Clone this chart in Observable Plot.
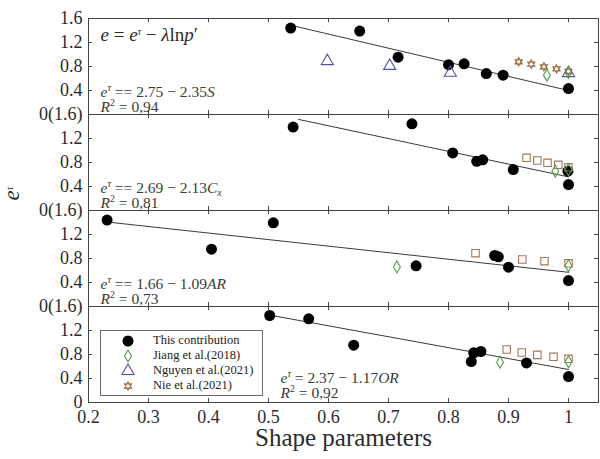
<!DOCTYPE html>
<html>
<head>
<meta charset="utf-8">
<script src="https://cdn.jsdelivr.net/npm/d3@7"></script>
<script src="https://cdn.jsdelivr.net/npm/@observablehq/plot@0.6"></script>
<style>
  body { margin: 0; background: #fff; }
</style>
</head>
<body>
<div id="chart"></div>
<script>
// Stacked panels: one per shape parameter
const panels = ["S", "Cx", "AR", "OR"];

// Legend entries
const seriesNames = ["This contribution", "Jiang et al.(2018)", "Nguyen et al.(2021)", "Nie et al.(2021)"];

// [panel, shape parameter, e^τ]
const thisContribution = [
  ["S", 0.537, 1.44], ["S", 0.652, 1.39], ["S", 0.716, 0.955], ["S", 0.80, 0.83],
  ["S", 0.826, 0.845], ["S", 0.863, 0.683], ["S", 0.891, 0.656], ["S", 1.0, 0.433],
  ["Cx", 0.541, 1.39], ["Cx", 0.739, 1.445], ["Cx", 0.807, 0.96], ["Cx", 0.847, 0.82],
  ["Cx", 0.857, 0.845], ["Cx", 0.908, 0.683], ["Cx", 0.999, 0.655], ["Cx", 1.0, 0.433],
  ["AR", 0.231, 1.44], ["AR", 0.405, 0.955], ["AR", 0.508, 1.394], ["AR", 0.746, 0.678],
  ["AR", 0.877, 0.85], ["AR", 0.883, 0.828], ["AR", 0.90, 0.656], ["AR", 1.0, 0.433],
  ["OR", 0.502, 1.45], ["OR", 0.567, 1.395], ["OR", 0.642, 0.955], ["OR", 0.838, 0.683],
  ["OR", 0.842, 0.828], ["OR", 0.854, 0.85], ["OR", 0.93, 0.66], ["OR", 1.0, 0.433]
];
const jiang2018 = [
  ["S", 0.964, 0.655], ["S", 1.0, 0.70],
  ["Cx", 0.978, 0.655], ["Cx", 1.0, 0.68],
  ["AR", 0.714, 0.66], ["AR", 1.0, 0.68],
  ["OR", 0.886, 0.672], ["OR", 1.0, 0.678]
];
const nguyen2021 = [
  ["S", 0.598, 0.89], ["S", 0.702, 0.81], ["S", 0.803, 0.695], ["S", 1.0, 0.69]
];
const nie2021Stars = [
  ["S", 0.917, 0.878], ["S", 0.938, 0.84], ["S", 0.959, 0.795], ["S", 0.98, 0.76], ["S", 1.0, 0.72]
];
const nie2021Squares = [
  ["Cx", 0.93, 0.878], ["Cx", 0.948, 0.833], ["Cx", 0.965, 0.795], ["Cx", 0.983, 0.761], ["Cx", 1.0, 0.72],
  ["AR", 0.845, 0.889], ["AR", 0.923, 0.783], ["AR", 0.96, 0.755], ["AR", 1.0, 0.72],
  ["OR", 0.897, 0.883], ["OR", 0.922, 0.833], ["OR", 0.948, 0.794], ["OR", 0.975, 0.761], ["OR", 1.0, 0.728]
];

// Linear fits e^τ = a + b·x over [from, to]
const fitIntercept = [2.75, 2.69, 1.66, 2.37];
const fitSlope = [-2.35, -2.13, -1.09, -1.82];
const fitFrom = [0.537, 0.55, 0.231, 0.502];
const fitTo = [1.0, 1.0, 1.0, 1.0];

// Annotation text (^ = superscript, _ = subscript)
const modelLabel = "e = e^τ − λlnp′";
const fitLabels = ["e^τ == 2.75 − 2.35S", "e^τ == 2.69 − 2.13C_x", "e^τ == 1.66 − 1.09AR", "e^τ = 2.37 − 1.17OR"];
const r2Labels = ["R^2 = 0,94", "R^2 = 0,81", "R^2 = 0,73", "R^2 = 0,92"];

// Axis ticks
const xTickValues = [0.2, 0.3, 0.4, 0.5, 0.6, 0.7, 0.8, 0.9, 1.0];
const xTickLabels = ["0.2", "0.3", "0.4", "0.5", "0.6", "0.7", "0.8", "0.9", "1"];
const yTickValues = [0.4, 0.8, 1.2];
const yTickLabels = ["0.4", "0.8", "1.2"];
const yTopLabel = "1.6";
const yJoinLabel = "0(1.6)";
const yBottomLabel = "0";
const xTitle = "Shape parameters";
const yTitle = "e^τ";

const colors = { own: "#000000", jiang: "#4f9e48", nguyen: "#5252a3", nie: "#a06f45", nieSq: "#a3765c" };
const ink = "#2b2b2b";
const font = "'Liberation Serif', 'Times New Roman', 'DejaVu Serif', serif";

// Six-pointed star outline (two overlapping triangles)
const hexagram = {
  draw(ctx, size) {
    const r = Math.sqrt(size / Math.PI);
    for (const start of [-Math.PI / 2, Math.PI / 2]) {
      for (let k = 0; k < 3; k++) {
        const a = start + k * 2 * Math.PI / 3;
        const x = r * Math.cos(a), y = r * Math.sin(a);
        if (k === 0) ctx.moveTo(x, y); else ctx.lineTo(x, y);
      }
      ctx.closePath();
    }
  }
};

const toRows = (arr) => arr.map(([panel, x, y]) => ({panel, x, y}));

const fitRows = panels.flatMap((p, i) => [fitFrom[i], fitTo[i]].map(x => ({
  panel: p, x, y: fitIntercept[i] + fitSlope[i] * x
})));

const yLabelRows = [
  {panel: "S", y: 1.6, label: yTopLabel},
  ...panels.flatMap(p => yTickValues.map((v, i) => ({panel: p, y: v, label: yTickLabels[i]}))),
  ...panels.map((p, i) => ({panel: p, y: 0, label: i < panels.length - 1 ? yJoinLabel : yBottomLabel}))
];

const xLabelRows = xTickValues.map((v, i) => ({panel: "OR", v, label: xTickLabels[i]}));
const innerTicks = xTickValues.slice(1);
const eqRows = panels.map((p, i) => ({panel: p, eq: fitLabels[i], r2: r2Labels[i]}));

const chart = Plot.plot({
  width: 600,
  height: 459,
  marginTop: 18,
  marginBottom: 57,
  marginLeft: 88,
  marginRight: 2,
  x: {domain: [0.2, 1.05], axis: null},
  y: {domain: [0, 1.6], axis: null},
  fy: {domain: panels, padding: 0, axis: null},
  style: {fontFamily: font, background: "#fff", color: ink},
  marks: [
    // inward ticks on all four sides of every panel
    Plot.tickX(innerTicks, {x: d => d, insetTop: 92, stroke: "#444"}),
    Plot.tickX(innerTicks, {x: d => d, insetBottom: 92, stroke: "#444"}),
    Plot.tickY(yTickValues, {y: d => d, insetRight: 506, stroke: "#444"}),
    Plot.tickY(yTickValues, {y: d => d, insetLeft: 506, stroke: "#444"}),
    Plot.frame({stroke: "#444", strokeWidth: 1}),

    // y tick labels
    Plot.text(yLabelRows, {fy: "panel", y: "y", text: "label", frameAnchor: "left", textAnchor: "end", dx: -6, fontSize: 18, fill: ink}),
    // x tick labels and title under the last panel
    Plot.text(xLabelRows, {fy: "panel", x: "v", text: "label", frameAnchor: "bottom", dy: 20, fontSize: 18, fill: ink}),
    Plot.text([{panel: "OR", t: xTitle}], {fy: "panel", text: "t", frameAnchor: "bottom", dy: 43, fontSize: 25, fill: ink}),
    Plot.text([{panel: "Cx", t: yTitle}], {fy: "panel", text: "t", frameAnchor: "bottom-left", dx: -70, dy: -10, rotate: -90, fontSize: 23, fill: ink}),

    // fitted lines
    Plot.line(fitRows, {fy: "panel", x: "x", y: "y", z: "panel", stroke: "#3a3a3a", strokeWidth: 1}),

    // data
    Plot.dot(toRows(thisContribution), {fy: "panel", x: "x", y: "y", r: 5.5, fill: colors.own, stroke: "none"}),
    Plot.dot(toRows(nie2021Stars), {fy: "panel", x: "x", y: "y", r: 4.2, symbol: hexagram, fill: "none", stroke: colors.nie, strokeWidth: 1.1}),
    Plot.dot(toRows(nie2021Squares), {fy: "panel", x: "x", y: "y", r: 4.2, symbol: "square", fill: "none", stroke: colors.nieSq, strokeWidth: 1.1}),
    Plot.dot(toRows(nguyen2021), {fy: "panel", x: "x", y: "y", r: 4.5, symbol: "triangle", fill: "none", stroke: colors.nguyen, strokeWidth: 1.1}),
    Plot.dot(toRows(jiang2018), {fy: "panel", x: "x", y: "y", r: 3.6, symbol: "diamond", fill: "none", stroke: colors.jiang, strokeWidth: 1.1}),

    // equations
    Plot.text([{panel: "S", t: modelLabel}], {fy: "panel", text: "t", frameAnchor: "top-left", textAnchor: "start", lineAnchor: "bottom", dx: 12, dy: 22, fontSize: 19, fill: ink}),
    Plot.text(eqRows.slice(0, 3), {fy: "panel", text: "eq", frameAnchor: "bottom-left", textAnchor: "start", lineAnchor: "bottom", dx: 12, dy: -18, fontSize: 15.5, fill: "#3a3a3a"}),
    Plot.text(eqRows.slice(0, 3), {fy: "panel", text: "r2", frameAnchor: "bottom-left", textAnchor: "start", lineAnchor: "bottom", dx: 12, dy: -3, fontSize: 15.5, fill: "#3a3a3a"}),
    Plot.text(eqRows.slice(3), {fy: "panel", text: "eq", frameAnchor: "bottom-left", textAnchor: "start", lineAnchor: "bottom", dx: 192, dy: -20, fontSize: 15.5, fill: "#3a3a3a"}),
    Plot.text(eqRows.slice(3), {fy: "panel", text: "r2", frameAnchor: "bottom-left", textAnchor: "start", lineAnchor: "bottom", dx: 192, dy: -5, fontSize: 15.5, fill: "#3a3a3a"})
  ]
});

// Typeset math-like strings: letters in italic, ^x superscript, _x subscript
function typeset(el, src) {
  const size = parseFloat(getComputedStyle(el).fontSize) || 14;
  const ns = "http://www.w3.org/2000/svg";
  el.textContent = "";
  let shift = 0;
  const add = (txt, italic, mode) => {
    const t = document.createElementNS(ns, "tspan");
    t.textContent = txt;
    if (italic) t.setAttribute("font-style", "italic");
    const target = mode === "sup" ? -0.4 * size : mode === "sub" ? 0.22 * size : 0;
    if (target !== shift) { t.setAttribute("dy", target - shift); shift = target; }
    if (mode) t.setAttribute("font-size", 0.7 * size);
    el.appendChild(t);
  };
  let i = 0;
  while (i < src.length) {
    let c = src[i];
    let mode = null;
    if ((c === "^" || c === "_") && i + 1 < src.length) { mode = c === "^" ? "sup" : "sub"; i++; c = src[i]; }
    if (!mode && src.startsWith("ln", i)) { add("ln", false, null); i += 2; continue; }
    add(c, /[A-Za-zα-ω]/.test(c), mode);
    i++;
  }
}
d3.select(chart).selectAll("text").each(function() {
  const s = this.textContent;
  if (s.includes("^") || s.includes("_")) typeset(this, s);
});

// Layout: chart with the legend box over the last panel
const wrap = d3.select("#chart")
  .style("position", "relative").style("width", "600px").style("height", "459px");
wrap.node().appendChild(chart);

const legend = wrap.append("div")
  .style("position", "absolute").style("left", "100px").style("top", "330px")
  .style("width", "163px").style("height", "66px").style("box-sizing", "border-box")
  .style("border", "1px solid #6b6b6b").style("background", "#fff")
  .style("font-family", font).style("font-size", "12.5px").style("color", "#222");

const legendSymbols = [
  {type: d3.symbolCircle, r: 5.5, fill: colors.own, stroke: "none"},
  {type: d3.symbolDiamond, r: 3.6, fill: "none", stroke: colors.jiang},
  {type: d3.symbolTriangle, r: 4.5, fill: "none", stroke: colors.nguyen},
  {type: hexagram, r: 4.2, fill: "none", stroke: colors.nie}
];

seriesNames.forEach((name, i) => {
  const row = legend.append("div")
    .style("position", "absolute").style("left", "0px").style("top", (2 + 15 * i) + "px")
    .style("height", "15px").style("width", "160px");
  const s = legendSymbols[i];
  const svg = row.append("svg").attr("width", 16).attr("height", 16)
    .style("position", "absolute").style("left", "19px").style("top", "0px");
  svg.append("path")
    .attr("transform", "translate(8,8)")
    .attr("d", d3.symbol(s.type, s.r * s.r * Math.PI)())
    .attr("fill", s.fill).attr("stroke", s.stroke).attr("stroke-width", 1.1);
  row.append("div")
    .style("position", "absolute").style("left", "52px").style("top", "0px")
    .style("line-height", "15px").style("white-space", "nowrap")
    .text(name);
});
</script>
</body>
</html>
